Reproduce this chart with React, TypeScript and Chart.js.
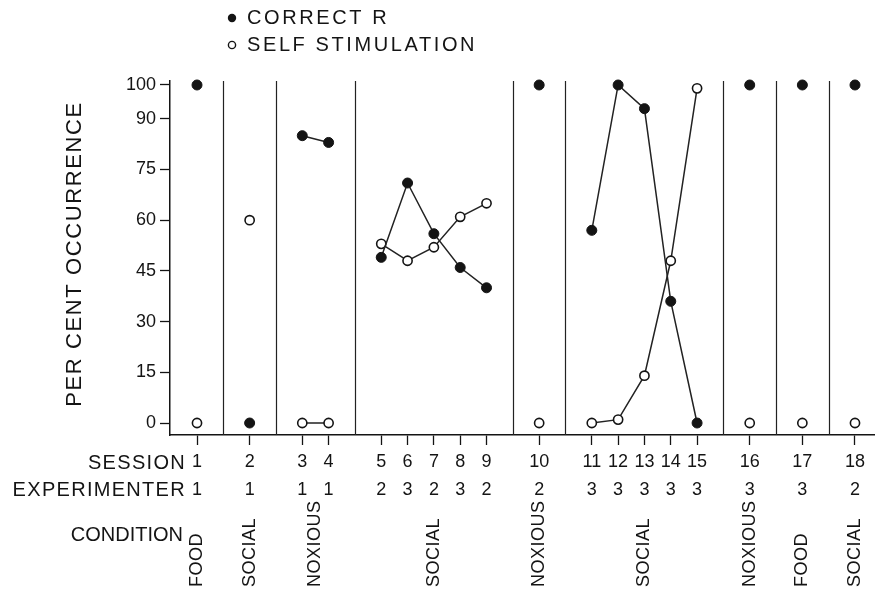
import React, { useEffect, useRef } from 'react';
import { Chart, registerables } from 'chart.js';

Chart.register(...registerables);

const sessions = [1, 2, 3, 4, 5, 6, 7, 8, 9, 10, 11, 12, 13, 14, 15, 16, 17, 18];
const experimenters = [1, 1, 1, 1, 2, 3, 2, 3, 2, 2, 3, 3, 3, 3, 3, 3, 3, 2];
const correctR = [100, 0, 85, 83, 49, 71, 56, 46, 40, 100, 57, 100, 93, 36, 0, 100, 100, 100];
const selfStimulation = [0, 60, 0, 0, 53, 48, 52, 61, 65, 0, 0, 1, 14, 48, 99, 0, 0, 0];
const phaseSizes = [1, 1, 2, 5, 1, 5, 1, 1, 1];
const conditions = ['FOOD', 'SOCIAL', 'NOXIOUS', 'SOCIAL', 'NOXIOUS', 'SOCIAL', 'NOXIOUS', 'FOOD', 'SOCIAL'];
const yTickValues = [0, 15, 30, 45, 60, 75, 90, 100];
const seriesNames = ['CORRECT R', 'SELF STIMULATION'];
const rowLabels = ['SESSION', 'EXPERIMENTER', 'CONDITION'];
const yTitle = 'PER CENT OCCURRENCE';

const FONT = "'Liberation Sans', Arial, sans-serif";
const INK = '#141414';

// session slots on the x axis: one unit inside a phase, two units between phases
const positions: number[] = [];
const boundaries: number[] = [];
const phaseCenters: number[] = [];
(() => {
  let p = 0;
  phaseSizes.forEach((n, gi) => {
    const first = p;
    for (let k = 0; k < n; k++) {
      positions.push(p);
      p++;
    }
    phaseCenters.push((first + p - 1) / 2);
    if (gi < phaseSizes.length - 1) boundaries.push(p);
    p++;
  });
})();

function buildPoints(values: number[]) {
  const out: { x: number; y: number | null }[] = [];
  let i = 0;
  phaseSizes.forEach((n) => {
    for (let k = 0; k < n; k++) {
      out.push({ x: positions[i], y: values[i] });
      i++;
    }
    out.push({ x: positions[i - 1] + 1, y: null });
  });
  return out;
}

const decorPlugin = {
  id: 'decor',
  beforeDatasetsDraw(chart: any) {
    const { ctx, chartArea, scales } = chart;
    const x = scales.x;
    ctx.save();
    ctx.strokeStyle = '#222';
    ctx.lineWidth = 1.2;
    boundaries.forEach((b) => {
      const px = Math.round(x.getPixelForValue(b)) + 0.5;
      ctx.beginPath();
      ctx.moveTo(px, chartArea.top);
      ctx.lineTo(px, chartArea.bottom);
      ctx.stroke();
    });
    ctx.restore();
  },
  afterDraw(chart: any) {
    const { ctx, scales } = chart;
    const x = scales.x;
    ctx.save();
    ctx.fillStyle = INK;
    ctx.strokeStyle = INK;

    // legend
    ctx.beginPath();
    ctx.arc(232, 18, 4.2, 0, Math.PI * 2);
    ctx.fill();
    ctx.beginPath();
    ctx.lineWidth = 1.4;
    ctx.arc(232, 45, 3.6, 0, Math.PI * 2);
    ctx.stroke();
    ctx.font = `20px ${FONT}`;
    (ctx as any).letterSpacing = '2.6px';
    ctx.textAlign = 'left';
    ctx.textBaseline = 'middle';
    ctx.fillText(seriesNames[0], 247, 18);
    ctx.fillText(seriesNames[1], 247, 45);

    // y title
    ctx.save();
    ctx.translate(75, 254);
    ctx.rotate(-Math.PI / 2);
    ctx.font = `22px ${FONT}`;
    (ctx as any).letterSpacing = '1.6px';
    ctx.textAlign = 'center';
    ctx.fillText(yTitle, 0, 0);
    ctx.restore();

    // row labels
    ctx.textAlign = 'right';
    ctx.font = `20px ${FONT}`;
    (ctx as any).letterSpacing = '1.3px';
    ctx.fillText(rowLabels[0], 186, 463);
    ctx.fillText(rowLabels[1], 186, 490);
    (ctx as any).letterSpacing = '0px';
    ctx.fillText(rowLabels[2], 183, 535);

    // experimenter numbers
    ctx.textAlign = 'center';
    ctx.font = `18px ${FONT}`;
    positions.forEach((pos, i) => {
      ctx.fillText(String(experimenters[i]), x.getPixelForValue(pos), 490);
    });

    // condition labels (rotated)
    ctx.font = `18px ${FONT}`;
    (ctx as any).letterSpacing = '0.5px';
    conditions.forEach((c, gi) => {
      ctx.save();
      ctx.translate(x.getPixelForValue(phaseCenters[gi]), 587);
      ctx.rotate(-Math.PI / 2);
      ctx.textAlign = 'left';
      ctx.textBaseline = 'middle';
      ctx.fillText(c, 0, 0);
      ctx.restore();
    });
    ctx.restore();
  },
};

export default function App() {
  const ref = useRef<HTMLCanvasElement | null>(null);

  useEffect(() => {
    if (!ref.current) return;
    const chart = new Chart(ref.current, {
      type: 'line',
      data: {
        datasets: [
          {
            label: seriesNames[0],
            data: buildPoints(correctR) as any,
            borderColor: '#222',
            borderWidth: 1.5,
            backgroundColor: INK,
            pointBackgroundColor: INK,
            pointBorderColor: INK,
            pointRadius: 5,
            pointBorderWidth: 1,
            spanGaps: false,
            tension: 0,
            clip: false as any,
          },
          {
            label: seriesNames[1],
            data: buildPoints(selfStimulation) as any,
            borderColor: '#222',
            borderWidth: 1.5,
            backgroundColor: '#fff',
            pointBackgroundColor: '#fff',
            pointBorderColor: INK,
            pointRadius: 4.6,
            pointBorderWidth: 1.6,
            spanGaps: false,
            tension: 0,
            clip: false as any,
          },
        ],
      },
      options: {
        responsive: false,
        animation: false,
        events: [],
        layout: { autoPadding: false, padding: { top: 81, left: 0, right: 0, bottom: 0 } },
        plugins: {
          legend: { display: false },
          tooltip: { enabled: false },
          title: { display: false },
        },
        scales: {
          x: {
            type: 'linear',
            min: -1.026,
            max: 25.76,
            afterBuildTicks: (scale: any) => {
              scale.ticks = positions.map((v) => ({ value: v }));
            },
            afterFit: (scale: any) => {
              scale.height = 164;
              scale.paddingLeft = 0;
              scale.paddingRight = 0;
            },
            grid: {
              display: true,
              drawOnChartArea: false,
              drawTicks: true,
              tickLength: 10,
              tickWidth: 1.3,
              color: INK,
            },
            border: { display: true, color: INK, width: 1.5 },
            ticks: {
              autoSkip: false,
              maxRotation: 0,
              padding: 6,
              color: INK,
              font: { family: FONT, size: 18 },
              callback: (value: any) => {
                const i = positions.indexOf(Number(value));
                return i >= 0 ? String(sessions[i]) : '';
              },
            },
          },
          y: {
            type: 'linear',
            min: -3.55,
            max: 101.18,
            afterBuildTicks: (scale: any) => {
              scale.ticks = yTickValues.map((v) => ({ value: v }));
            },
            afterFit: (scale: any) => {
              scale.width = 170;
              scale.paddingTop = 0;
              scale.paddingBottom = 0;
            },
            grid: {
              display: true,
              drawOnChartArea: false,
              drawTicks: true,
              tickLength: 10,
              tickWidth: 1.3,
              color: INK,
            },
            border: { display: true, color: INK, width: 1.5 },
            ticks: {
              padding: 4,
              color: INK,
              font: { family: FONT, size: 18 },
              callback: (value: any) => String(value),
            },
          },
        },
      },
      plugins: [decorPlugin],
    });
    return () => chart.destroy();
  }, []);

  return (
    <canvas
      ref={ref}
      width={875}
      height={599}
      style={{ position: 'absolute', left: 0, top: 0, display: 'block', background: '#fff' }}
    />
  );
}
